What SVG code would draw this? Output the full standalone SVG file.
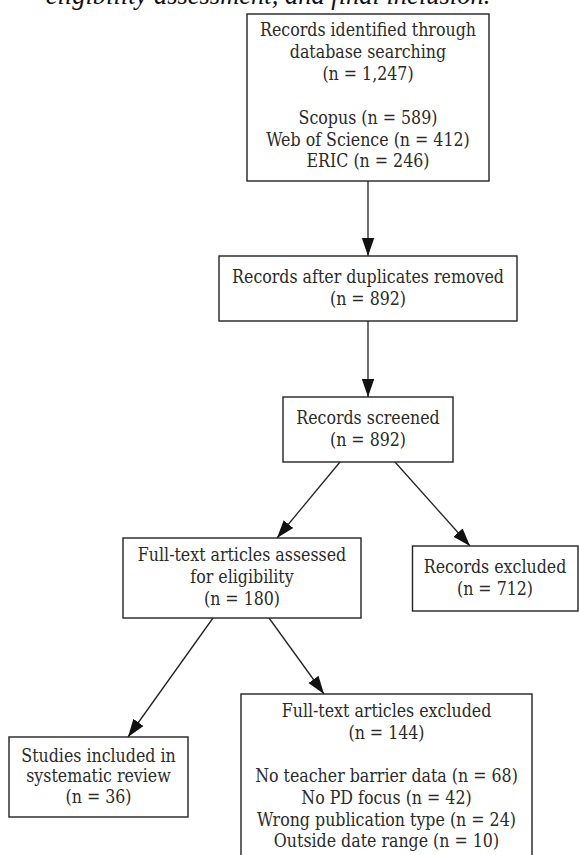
<svg xmlns="http://www.w3.org/2000/svg" width="579" height="855" viewBox="0 0 579 855">
<style>
.box{fill:#fff;stroke:#222;stroke-width:1.4}
.t{font-family:"DejaVu Serif","Liberation Serif",serif;font-stretch:condensed;font-size:17.6px;fill:#2a2a2a;text-anchor:middle}
.edge{stroke:#222;stroke-width:1.3;fill:none;marker-end:url(#ah)}
.cap{font-family:"Liberation Serif",serif;font-style:italic;font-size:26.5px;fill:#111;text-anchor:middle}
</style>
<defs>
<marker id="ah" markerUnits="userSpaceOnUse" markerWidth="18" markerHeight="14" viewBox="0 0 16 12" refX="16" refY="6" orient="auto">
<path d="M0,0.5 L16,6 L0,11.5 Z" fill="#111"/>
</marker>
</defs>
<rect width="579" height="855" fill="#fff"/>
<text class="cap" x="268" y="4">eligibility assessment, and final inclusion.</text>
<g id="edges">
<line class="edge" x1="368" y1="181" x2="368" y2="256"/>
<line class="edge" x1="368" y1="321" x2="368" y2="397"/>
<line class="edge" x1="340" y1="462" x2="277" y2="538"/>
<line class="edge" x1="395" y1="462" x2="470" y2="546"/>
<line class="edge" x1="213" y1="618" x2="128" y2="737"/>
<line class="edge" x1="269" y1="618" x2="324" y2="694"/>
</g>
<g id="identified">
<rect class="box" x="247" y="14" width="242" height="167"/>
<text class="t" x="368" y="36">Records identified through</text>
<text class="t" x="368" y="58">database searching</text>
<text class="t" x="368" y="80">(n = 1,247)</text>
<text class="t" x="368" y="124">Scopus (n = 589)</text>
<text class="t" x="368" y="146">Web of Science (n = 412)</text>
<text class="t" x="368" y="167">ERIC (n = 246)</text>
</g>
<g id="deduplicated">
<rect class="box" x="219" y="256" width="298" height="65"/>
<text class="t" x="368" y="283">Records after duplicates removed</text>
<text class="t" x="368" y="305">(n = 892)</text>
</g>
<g id="screened">
<rect class="box" x="283" y="397" width="170" height="65"/>
<text class="t" x="368" y="424">Records screened</text>
<text class="t" x="368" y="446">(n = 892)</text>
</g>
<g id="assessed">
<rect class="box" x="123" y="538" width="238" height="80"/>
<text class="t" x="242" y="561">Full-text articles assessed</text>
<text class="t" x="242" y="583">for eligibility</text>
<text class="t" x="242" y="605">(n = 180)</text>
</g>
<g id="records-excluded">
<rect class="box" x="412.5" y="546" width="165.5" height="65"/>
<text class="t" x="495" y="573">Records excluded</text>
<text class="t" x="495" y="595">(n = 712)</text>
</g>
<g id="included">
<rect class="box" x="9" y="737" width="179" height="80"/>
<text class="t" x="98.5" y="762">Studies included in</text>
<text class="t" x="98.5" y="782">systematic review</text>
<text class="t" x="98.5" y="803">(n = 36)</text>
</g>
<g id="fulltext-excluded">
<rect class="box" x="241" y="694" width="291" height="170"/>
<text class="t" x="386.5" y="717">Full-text articles excluded</text>
<text class="t" x="386.5" y="739">(n = 144)</text>
<text class="t" x="386.5" y="782">No teacher barrier data (n = 68)</text>
<text class="t" x="386.5" y="804">No PD focus (n = 42)</text>
<text class="t" x="386.5" y="826">Wrong publication type (n = 24)</text>
<text class="t" x="386.5" y="847">Outside date range (n = 10)</text>
</g>
</svg>
